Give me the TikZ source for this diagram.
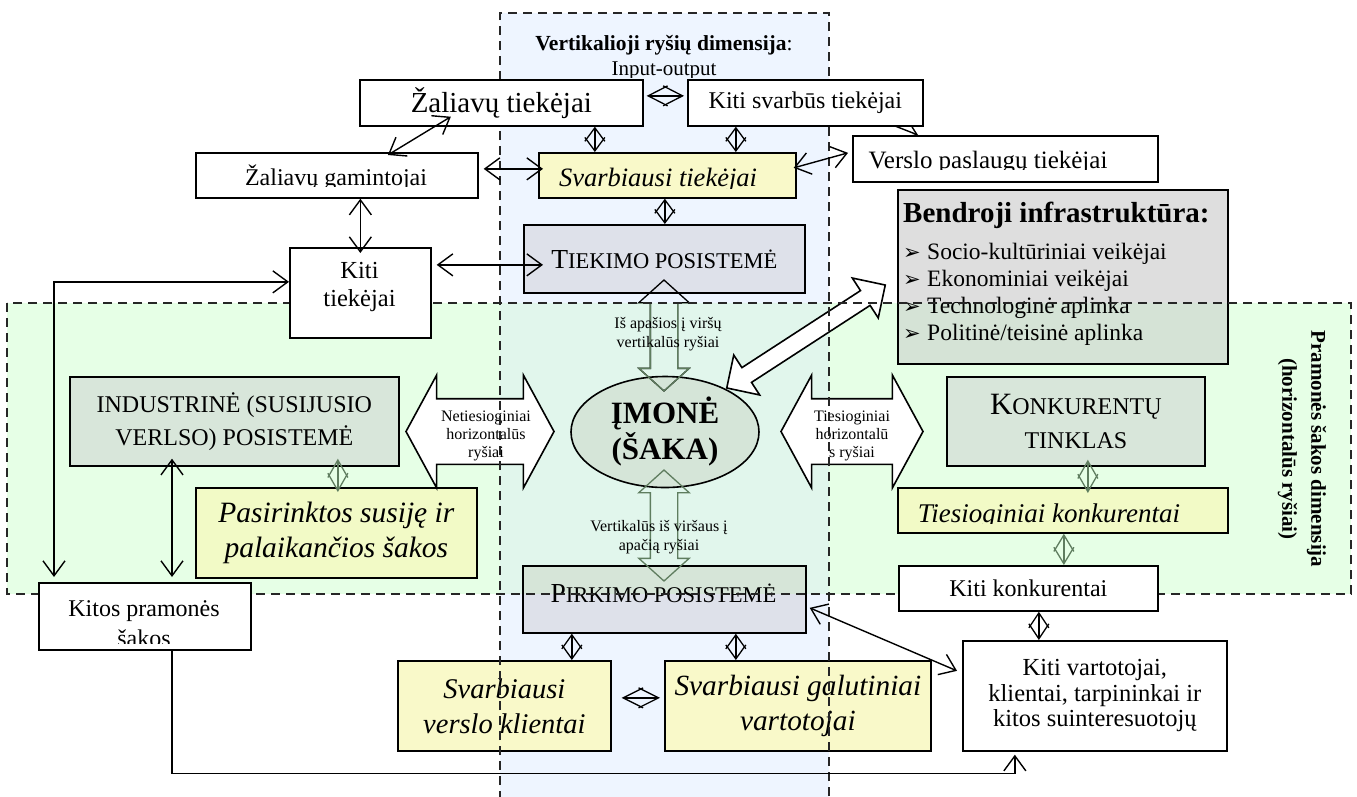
\documentclass[tikz,border=0pt]{standalone}
\usepackage{fontspec}
\setmainfont{Liberation Serif}
\newfontfamily\djv{DejaVu Sans}
\usetikzlibrary{shapes.arrows,shapes.geometric,arrows.meta,calc}
\definecolor{regblue}{HTML}{EEF5FF}
\definecolor{reggreen}{HTML}{E6FFE6}
\definecolor{regboth}{HTML}{E1F6EC}
\definecolor{yel}{HTML}{F9F9C9}
\definecolor{yelg}{HTML}{F2FAC6}
\definecolor{grayb}{HTML}{DEE1EA}
\definecolor{grayg}{HTML}{D8E6DA}
\definecolor{grayl}{HTML}{DEDEDE}
\definecolor{grayinfg}{HTML}{D5E3D6}
\definecolor{ellc}{HTML}{D5E5D8}
\definecolor{gline}{HTML}{5F7D5F}
\newcommand\fsbox{\fontsize{24}{27}\selectfont}
\newcommand\fssmall{\fontsize{16}{18.5}\selectfont}
\newcommand\fstitle{\fontsize{21.5}{25}\selectfont}
\newcommand\scbig{\fontsize{27.5}{30}\selectfont}
\newcommand\scsmall{\fontsize{22.5}{30}\selectfont}
\newcommand\bul{\makebox[24pt][l]{\djv\fontsize{21}{22}\selectfont ➢}}
\begin{document}
\begin{tikzpicture}[x=1pt,y=-1pt,
 box/.style={draw=black, line width=1.7pt, inner sep=0pt, anchor=north west, align=center, font=\fsbox},
 dbl/.style={line width=1.4pt, {Straight Barb[length=15pt,width=22pt]}-{Straight Barb[length=15pt,width=22pt]}},
 sarr/.style={line width=1.4pt, -{Straight Barb[length=15pt,width=22pt]}},
 dia/.style={line width=1.3pt, {Straight Barb[length=#1,width=20pt]}-{Straight Barb[length=#1,width=20pt]}},
 regline/.style={line width=1.3pt, dash pattern=on 9pt off 6pt, color=black!85},
 harr/.style={double arrow, draw=black, fill=white, line width=1.6pt, minimum height=#1, double arrow head extend=23.5pt, inner sep=0pt, inner ysep=32pt, double arrow tip angle=123},
 varr/.style={double arrow, line width=1.3pt, rotate=90, minimum height=111pt, double arrow head extend=11.5pt, inner sep=0pt, inner ysep=13pt, double arrow tip angle=96},
 darr/.style={double arrow, draw=black, fill=white, line width=1.6pt, rotate=33, minimum height=189pt, double arrow head extend=15pt, inner sep=0pt, inner ysep=8pt, double arrow tip angle=90},
 txt/.style={inner sep=0pt, align=center},
 btxt/.style={inner sep=0pt, anchor=base}
]
\useasboundingbox (0,0) rectangle (1357,796);
\fill[white] (0,0) rectangle (1357,796);
% regions
\fill[regblue] (500,13) rectangle (829,800);
\fill[reggreen] (7,303) rectangle (1351,594);
\fill[regboth] (500,303) rectangle (829,594);

% coloured boxes
\node[box, fill=grayb, minimum width=281, minimum height=68] (tiek) at (523,224) {\scbig T\scsmall IEKIMO POSISTEMĖ};
\fill[grayl] (897,189) rectangle (1227,303);
\fill[grayinfg] (897,303) rectangle (1227,363);
\node[box, minimum width=330, minimum height=174] (bendr) at (897,189) {};
\node[anchor=base west, inner sep=0pt, font=\fontsize{29}{30}\selectfont\bfseries] (b0) at (903,222) {Bendroji infrastruktūra:};
\node[anchor=base west, inner sep=0pt, font=\fontsize{23.5}{27}\selectfont] (b1) at (903,259) {\bul Socio-kultūriniai veikėjai};
\node[anchor=base west, inner sep=0pt, font=\fontsize{23.5}{27}\selectfont] (b2) at (903,286) {\bul Ekonominiai veikėjai};
\node[anchor=base west, inner sep=0pt, font=\fontsize{23.5}{27}\selectfont] (b3) at (903,313) {\bul Technologinė aplinka};
\node[anchor=base west, inner sep=0pt, font=\fontsize{23.5}{27}\selectfont] (b4) at (903,340) {\bul Politinė/teisinė aplinka};

\node[box, fill=grayg, minimum width=329, minimum height=89, font=\fontsize{24}{33}\selectfont] (ind) at (69,376) {INDUSTRINĖ (SUSIJUSIO\\VERLSO) POSISTEMĖ};
\node[box, fill=grayg, minimum width=258, minimum height=89, font=\fontsize{24}{34}\selectfont] (konk) at (946,376) {{\fontsize{31}{34}\selectfont K}ONKURENTŲ\\TINKLAS};
\fill[ellc!70!grayg] (522,565) rectangle (805,594);
\fill[grayb] (522,594) rectangle (805,632);
\node[box, minimum width=283, minimum height=67] (pirk) at (522,565) {};
\node[txt, font=\scsmall] (pirkt) at (663.5,593) {\scbig P\scsmall IRKIMO POSISTEMĖ};

\node[box, fill=yel, minimum width=257, minimum height=45] (st) at (538,152) {};
\begin{scope}
\clip (st.north west) rectangle (795,188);
\node[btxt, font=\fontsize{26.5}{30}\selectfont\itshape] (stt) at (658,186) {Svarbiausi tiekėjai};
\end{scope}
\node[box, fill=yelg, minimum width=281, minimum height=90, font=\fontsize{29.5}{35}\selectfont\itshape] (pas) at (195,487) {Pasirinktos susiję ir\\palaikančios šakos};
\node[box, fill=yelg, minimum width=330, minimum height=45] (tk) at (897,487) {};
\begin{scope}
\clip (tk.north west) rectangle (1227,523);
\node[btxt, font=\fontsize{27}{30}\selectfont\itshape] (tkt) at (1049,522) {Tiesioginiai konkurentai};
\end{scope}
\node[box, fill=yel, minimum width=213, minimum height=90, font=\fontsize{28.5}{35}\selectfont\itshape] (vk) at (397,660) {Svarbiausi\\verslo klientai};
\node[box, fill=yel, minimum width=266, minimum height=90, font=\fontsize{29.3}{35}\selectfont\itshape] (gal) at (664,660) {Svarbiausi galutiniai\\vartotojai};

\node[ellipse, draw, line width=1.6pt, fill=ellc, minimum width=188, minimum height=111, inner sep=0pt, font=\fontsize{31}{36}\selectfont\bfseries, align=center] (imone) at (665,432) {ĮMONĖ\\(ŠAKA)};

% hollow arrows
\node[harr=148pt] (hl) at (480,431.5) {};
\node[harr=142pt] (hr) at (852,431.5) {};
\begin{scope}
\clip (430,400) rectangle (530,462);
\node[btxt, font=\fssmall] (hl1) at (486,421) {Netiesioginiai};
\node[btxt, font=\fssmall] (hl2) at (486,439) {horizontalūs};
\node[btxt, font=\fssmall] (hl3) at (486,457.5) {ryšiai};
\end{scope}
\begin{scope}
\clip (800,400) rectangle (900,462);
\node[btxt, font=\fssmall] (hr1) at (852,421) {Tiesioginiai};
\node[btxt, font=\fssmall] (hr2) at (852,439) {horizontalū};
\node[btxt, font=\fssmall] (hr3) at (852,457.5) {s ryšiai};
\end{scope}
\node[varr, draw=black] (va1) at (664,335.5) {};
\begin{scope}
\clip (7,303) rectangle (1351,594);
\node[varr, draw=gline] (va1g) at (664,335.5) {};
\end{scope}
\node[varr, draw=gline] (va2) at (664,525.5) {};
\node[txt, font=\fssmall] (va1t) at (668,334) {Iš apašios į viršų\\vertikalūs ryšiai};
\node[txt, font=\fssmall] (va2t) at (659,537) {Vertikalūs iš viršaus į\\apačią ryšiai};
\node[darr] (diag) at (806,336.5) {};

% region borders
\draw[regline] (500,800) -- (500,13) -- (829,13) -- (829,800);
\draw[regline] (7,303) rectangle (1351,594);

% titles
\node[txt, font=\fstitle] (vtitle) at (664,45) {\textbf{Vertikalioji ryšių dimensija}:};
\begin{scope}
\clip (560,55) rectangle (770,77.5);
\node[btxt, font=\fontsize{21}{25}\selectfont] (io) at (664,75.5) {Input-output};
\end{scope}
\node[txt, rotate=-90, font=\fontsize{21}{29}\selectfont\bfseries] (pram) at (1302,449) {Pramonės šakos dimensija\\(horizontalūs ryšiai)};

% partly hidden arrow
\draw[sarr] (872,117) -- (918,135);

% white boxes
\node[box, fill=white, minimum width=283, minimum height=46, font=\fontsize{29}{30}\selectfont] (zt) at (359,79) {Žaliavų tiekėjai};
\node[box, fill=white, minimum width=235, minimum height=46] (kst) at (687,79) {Kiti svarbūs tiekėjai};
\node[box, fill=white, minimum width=282, minimum height=45] (zg) at (195,152) {};
\begin{scope}
\clip (zg.north west) rectangle (477,186.5);
\node[btxt] (zgt) at (336,185) {\fsbox Žaliavų gamintojai};
\end{scope}
\node[box, fill=white, minimum width=305, minimum height=46] (vp) at (852,135) {};
\begin{scope}
\clip (vp.north west) rectangle (1157,169);
\node[btxt] (vpt) at (988,168) {\fontsize{25}{27}\selectfont Verslo paslaugų tiekėjai};
\end{scope}
\node[box, fill=white, minimum width=141, minimum height=90] (kt) at (289,247) {};
\node[txt, font=\fontsize{24.5}{28}\selectfont] (ktt) at (359.5,287) {Kiti\\tiekėjai};
\node[box, fill=white, minimum width=259, minimum height=45] (kitikonk) at (898,565) {\raisebox{-4pt}{Kiti konkurentai}};
\node[box, fill=white, minimum width=212, minimum height=67] (kitospram) at (38,582) {};
\begin{scope}
\clip (kitospram.north west) rectangle (250,643);
\node[btxt, font=\fsbox] (kp1) at (144,616) {Kitos pramonės};
\node[btxt, font=\fsbox] (kp2) at (144,646) {šakos};
\end{scope}
\node[box, fill=white, minimum width=264, minimum height=110, font=\fontsize{24.5}{25.5}\selectfont] (kitivart) at (962,640) {Kiti vartotojai,\\klientai, tarpininkai ir\\kitos suinteresuotojų};

% diamonds
\draw[dia=13.5pt] ([xshift=93.5]zt.south) -- ([xshift=-72.5]st.north);
\draw[dia=13.5pt] ([xshift=-69.5]kst.south) -- ([xshift=68.5]st.north);
\draw[dia=13.5pt] ([xshift=-2.5]st.south) -- ([xshift=0.5]tiek.north);
\draw[dia=19.5pt] ([xshift=3,yshift=7]zt.east) -- ([xshift=-3,yshift=7]kst.west);
\draw[dia=17.5pt, color=gline] ([xshift=103.5,yshift=8]ind.south) -- ([xshift=1.5,yshift=-5]pas.north);
\draw[dia=17.5pt, color=gline] ([xshift=12,yshift=7]konk.south) -- ([xshift=25,yshift=-6]tk.north);
\draw[dia=16.5pt, color=gline] ([xshift=1]tk.south) -- ([xshift=35.5]kitikonk.north);
\draw[dia=15pt] ([xshift=10.5]kitikonk.south) -- ([xshift=-56]kitivart.north);
\draw[dia=14pt] ([xshift=-92.5]pirk.south) -- ([xshift=67.5]vk.north);
\draw[dia=14pt] ([xshift=71.5]pirk.south) -- ([xshift=-62]gal.north);
\draw[dia=20pt] ([xshift=10,yshift=8]vk.east) -- ([xshift=-4,yshift=8]gal.west);

% connectors
\draw[dbl] ([xshift=-50.5,yshift=10]zt.south) -- ([xshift=51,yshift=-3]zg.north);
\draw[dbl] (kt.north |- zg.south) -- ([yshift=-6]kt.north);
\draw[dbl] ([xshift=5,yshift=6.5]zg.east) -- ([xshift=5,yshift=6.5]st.west);
\draw[dbl] ([xshift=-3,yshift=7.5]st.east) -- ([xshift=-4,yshift=6]vp.west);
\draw[dbl] ([xshift=5,yshift=28]kt.east) -- ([xshift=20,yshift=-6]tiek.west);
\draw[dbl] ([yshift=11]kt.west) -| ([xshift=16,yshift=5]kitospram.north west);
\draw[dbl] ([xshift=103,yshift=8]ind.south west) -- ([xshift=134,yshift=5]kitospram.north west);
\draw[sarr] ([xshift=134]kitospram.south west) |- ([xshift=-80,yshift=-22]kitivart.south) -- ([xshift=-80,yshift=-3]kitivart.south);
\draw[dbl] ([xshift=3,yshift=-8.5]pirk.east) -- ([xshift=-5,yshift=25]kitivart.west);
\end{tikzpicture}
\end{document}
